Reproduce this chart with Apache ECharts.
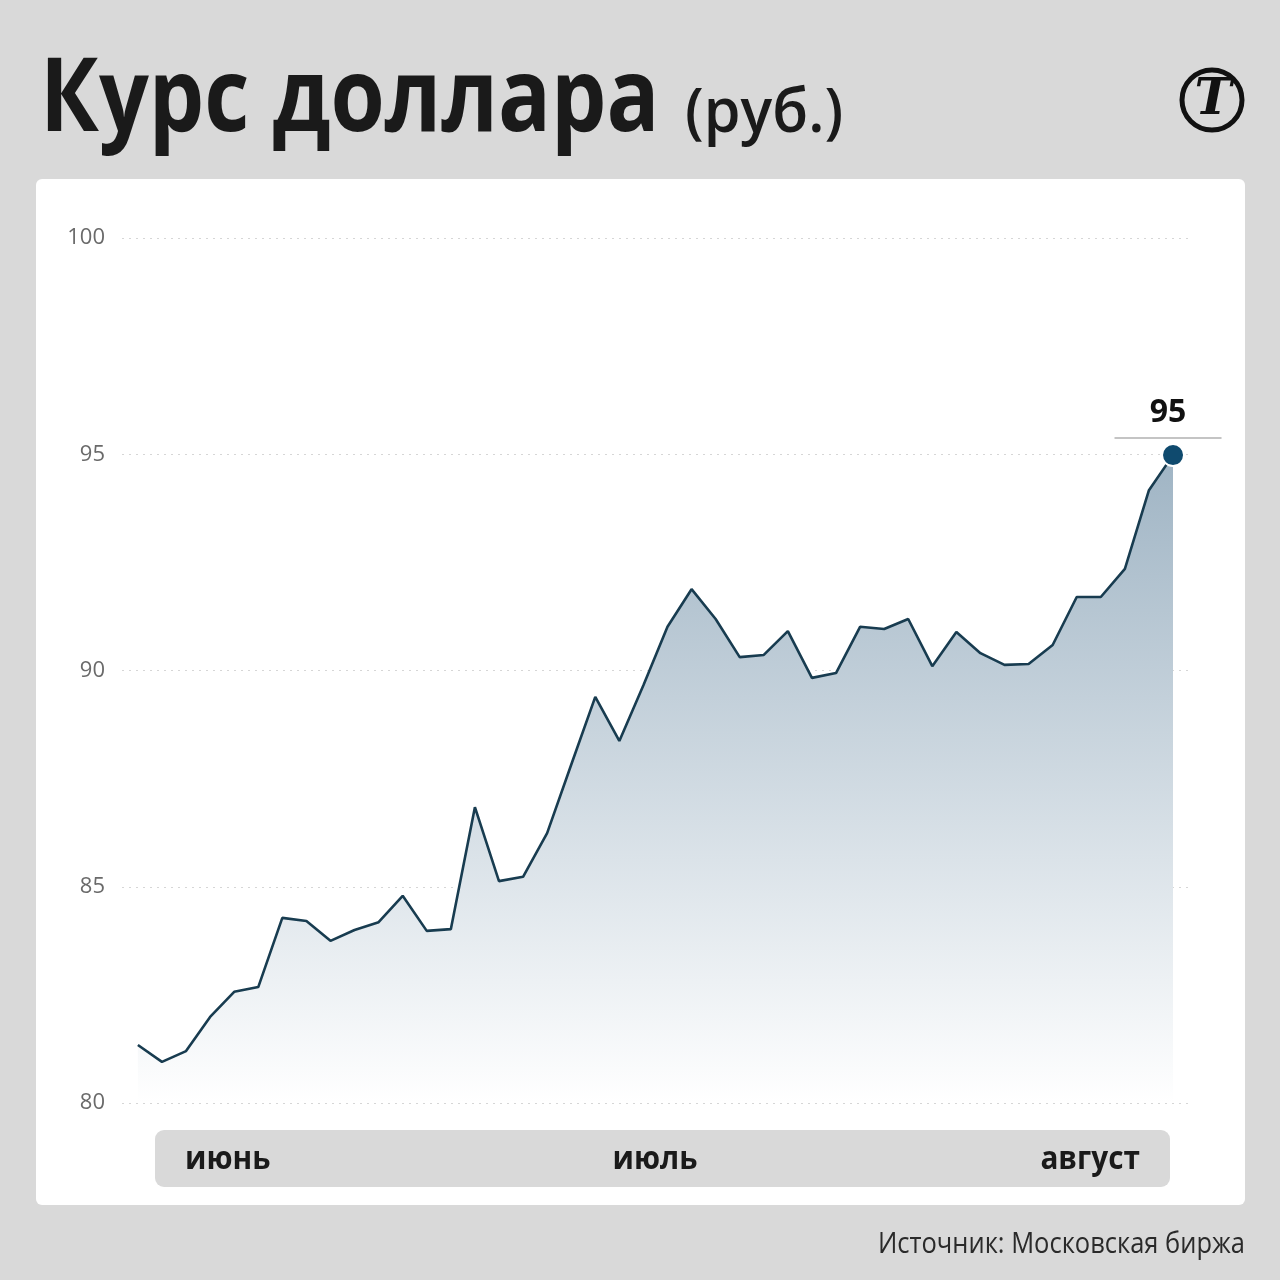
<!DOCTYPE html>
<html>
<head>
<meta charset="utf-8">
<script src="https://cdn.jsdelivr.net/npm/echarts@6/dist/echarts.min.js"></script>
<style>
html,body{margin:0;padding:0;background:#d9d9d9;}
#c{width:1280px;height:1280px;}
</style>
</head>
<body>
<div id="c"></div>
<script>
// Daily USD/RUB rate, June – August
const rates = [81.34, 80.95, 81.20, 81.99, 82.57, 82.68, 84.28, 84.21, 83.75, 84.00,
  84.18, 84.79, 83.98, 84.02, 86.84, 85.13, 85.23, 86.24, 87.82, 89.39,
  88.37, 89.66, 91.01, 91.88, 91.19, 90.31, 90.36, 90.91, 89.83, 89.94,
  91.01, 90.96, 91.19, 90.10, 90.89, 90.40, 90.13, 90.15, 90.59, 91.70,
  91.70, 92.35, 94.17, 94.98];
const yTicks = [80, 85, 90, 95, 100];
const months = ['июнь', 'июль', 'август'];
const titleMain = 'Курс доллара';
const titleUnit = '(руб.)';
const sourceText = 'Источник: Московская биржа';

const data = rates.map((v, i) => [i, v]);
const last = rates.length - 1;

const chart = echarts.init(document.getElementById('c'), null, {renderer: 'canvas'});
const FONT = '"Open Sans", "Noto Sans", sans-serif';

function txt(x, y, text, font, align, sx, fill) {
  return {type: 'text', x: x, y: y, scaleX: sx, originX: 0, originY: 0,
    style: {text: text, font: font, fill: fill || '#1a1a1a', textAlign: align, textVerticalAlign: 'middle'}};
}

chart.setOption({
  backgroundColor: '#d9d9d9',
  animation: false,
  grid: {left: 122, right: 87, top: 238, bottom: 177},
  xAxis: {
    type: 'value', min: -0.66, max: last + 0.83,
    show: false
  },
  yAxis: {
    type: 'value', min: yTicks[0], max: yTicks[yTicks.length - 1], interval: 5,
    axisLine: {show: false}, axisTick: {show: false},
    axisLabel: {color: '#6a6a6a', fontSize: 22, fontFamily: FONT, margin: 17, fontWeight: 400},
    splitLine: {lineStyle: {type: [2, 5], color: '#d6d6d6', width: 1}}
  },
  graphic: [
    {type: 'rect', z: -10, shape: {x: 36, y: 179, width: 1209, height: 1026, r: 6}, style: {fill: '#ffffff'}},
    {type: 'rect', z: -5, shape: {x: 155, y: 1130, width: 1015, height: 57, r: 9}, style: {fill: '#d9d9d9'}},
    txt(185, 1160, months[0], 'bold 32px ' + FONT, 'left', 0.93),
    txt(655, 1160, months[1], 'bold 32px ' + FONT, 'center', 0.93),
    txt(1140, 1160, months[2], 'bold 32px ' + FONT, 'right', 0.93),
    txt(40, 102, titleMain, 'bold 102px ' + FONT, 'left', 0.86),
    txt(685, 115, titleUnit, '600 61px ' + FONT, 'left', 0.97),
    txt(1245, 1244, sourceText, '400 30px ' + FONT, 'right', 0.85, '#2a2a2a'),
    {type: 'circle', shape: {cx: 1212, cy: 100, r: 30}, style: {fill: 'none', stroke: '#111', lineWidth: 5}},
    {type: 'text', x: 1213, y: 101, style: {text: 'Т', font: 'italic bold 50px "DejaVu Serif", serif', fill: '#111', textAlign: 'center', textVerticalAlign: 'middle'}}
  ],
  series: [{
    type: 'line',
    data: data,
    symbol: 'none',
    lineStyle: {color: '#183c50', width: 2.6},
    areaStyle: {
      origin: 'start',
      opacity: 1,
      color: new echarts.graphic.LinearGradient(0, 0, 0, 1, [
        {offset: 0, color: '#9fb4c4'},
        {offset: 1, color: '#ffffff'}
      ])
    },
    markPoint: {
      symbol: 'circle', symbolSize: 22,
      itemStyle: {color: '#0f4a6e', borderColor: '#ffffff', borderWidth: 2},
      label: {
        show: true, position: 'top', distance: 4, offset: [-5, 0],
        formatter: p => '{v|' + Math.round(p.value) + '}\n{l|}',
        rich: {
          v: {fontSize: 32, fontWeight: 'bold', color: '#111', fontFamily: FONT, align: 'center', lineHeight: 40, padding: [0, 0, 8, 0]},
          l: {width: 107, height: 2, backgroundColor: '#c4c4c4', align: 'center'}
        }
      },
      data: [{coord: data[last], value: rates[last]}]
    }
  }]
});
</script>
</body>
</html>
